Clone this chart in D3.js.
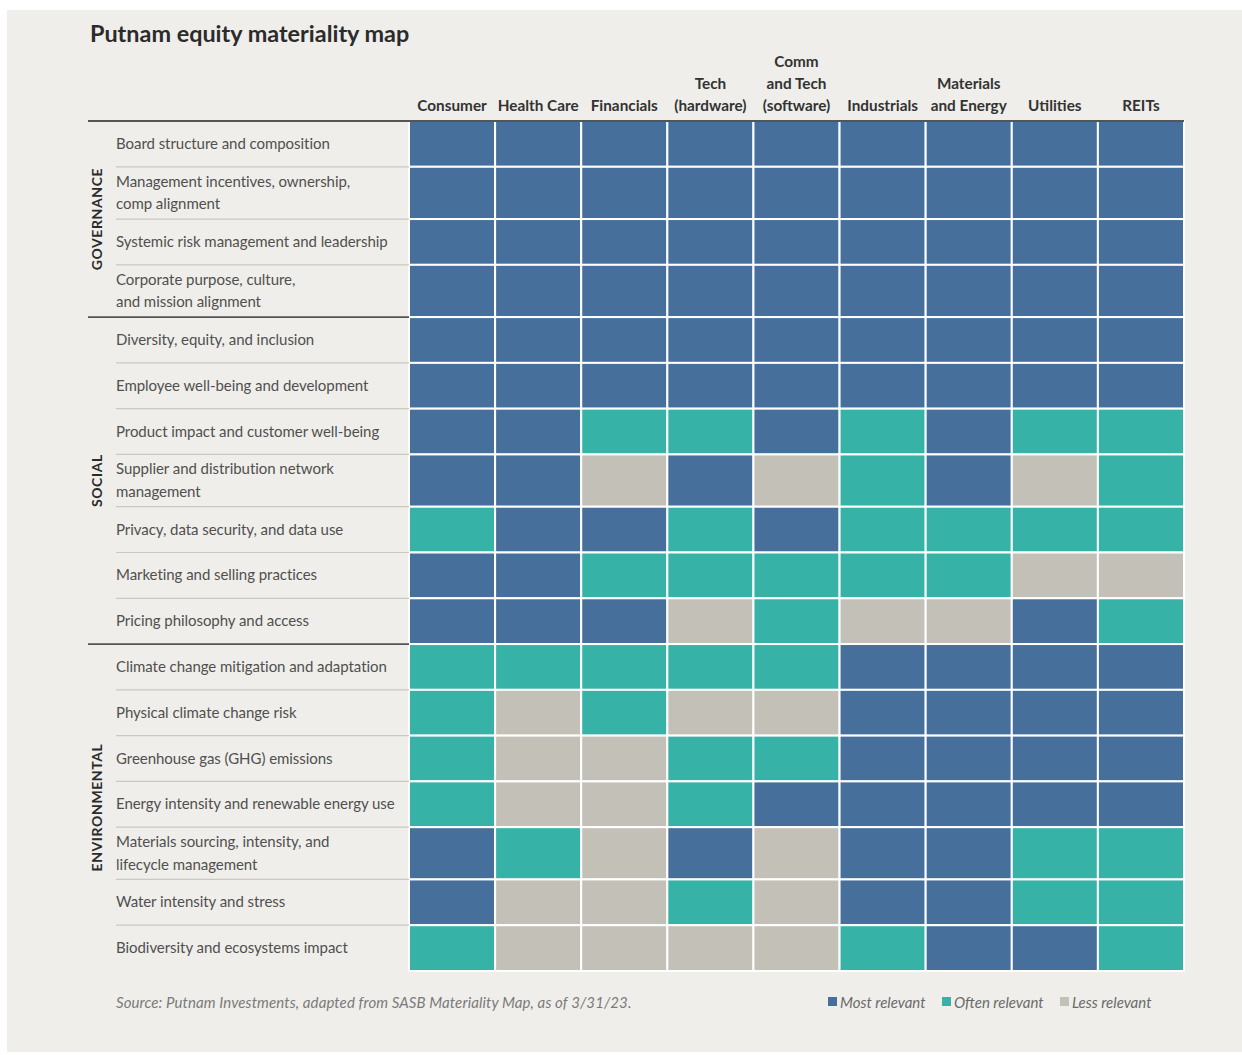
<!DOCTYPE html>
<html><head><meta charset="utf-8">
<script src="https://cdn.jsdelivr.net/npm/d3@7"></script>
<style>
html,body{margin:0;padding:0;background:#fff;}
svg{display:block;}
</style></head>
<body>
<script>
const title = "Putnam equity materiality map";
const sectors = ["Consumer","Health Care","Financials","Tech\n(hardware)","Comm\nand Tech\n(software)","Industrials","Materials\nand Energy","Utilities","REITs"];
const groups = ["GOVERNANCE","SOCIAL","ENVIRONMENTAL"];
const issues = [
 ["GOVERNANCE","Board structure and composition"],
 ["GOVERNANCE","Management incentives, ownership,\ncomp alignment"],
 ["GOVERNANCE","Systemic risk management and leadership"],
 ["GOVERNANCE","Corporate purpose, culture,\nand mission alignment"],
 ["SOCIAL","Diversity, equity, and inclusion"],
 ["SOCIAL","Employee well-being and development"],
 ["SOCIAL","Product impact and customer well-being"],
 ["SOCIAL","Supplier and distribution network\nmanagement"],
 ["SOCIAL","Privacy, data security, and data use"],
 ["SOCIAL","Marketing and selling practices"],
 ["SOCIAL","Pricing philosophy and access"],
 ["ENVIRONMENTAL","Climate change mitigation and adaptation"],
 ["ENVIRONMENTAL","Physical climate change risk"],
 ["ENVIRONMENTAL","Greenhouse gas (GHG) emissions"],
 ["ENVIRONMENTAL","Energy intensity and renewable energy use"],
 ["ENVIRONMENTAL","Materials sourcing, intensity, and\nlifecycle management"],
 ["ENVIRONMENTAL","Water intensity and stress"],
 ["ENVIRONMENTAL","Biodiversity and ecosystems impact"]
];
// M = Most relevant, O = Often relevant, L = Less relevant
const ratings = [
 "MMMMMMMMM",
 "MMMMMMMMM",
 "MMMMMMMMM",
 "MMMMMMMMM",
 "MMMMMMMMM",
 "MMMMMMMMM",
 "MMOOMOMOO",
 "MMLMLOMLO",
 "OMMOMOOOO",
 "MMOOOOOLL",
 "MMMLOLLMO",
 "OOOOOMMMM",
 "OLOLLMMMM",
 "OLLOOMMMM",
 "OLLOMMMMM",
 "MOLMLMMOO",
 "MLLOLMMOO",
 "OLLLLOMMO"
];
const levels = ["M","O","L"];
const levelNames = ["Most relevant","Often relevant","Less relevant"];
const levelColors = ["#46709b","#36b3a6","#c3c1b7"];
const source = "Source: Putnam Investments, adapted from SASB Materiality Map, as of 3/31/23.";

const W = 1242, H = 1055;
const svg = d3.select("body").append("svg").attr("width", W).attr("height", H);
svg.append("rect").attr("x",7).attr("y",10).attr("width",W-7).attr("height",1042).attr("fill","#efeeea");

const font = "Lato, 'Open Sans', sans-serif";
svg.append("text").attr("x",90).attr("y",42).text(title)
  .attr("font-family",font).attr("font-weight",700).attr("font-size",23.4).attr("fill","#2b2b2b");

const gridLeft = 409, gridRight = 1184, gridTop = 121, gridBottom = 971;
const x = d3.scaleBand().domain(sectors).range([gridLeft, gridRight]);
const color = d3.scaleOrdinal().domain(levels).range(levelColors);

// row heights from number of label lines
const units = issues.map(d => d[1].split("\n").length > 1 ? 1.142 : 1);
const cum = [0]; units.forEach(u => cum.push(cum[cum.length-1]+u));
const yU = d3.scaleLinear().domain([0, cum[cum.length-1]]).range([gridTop, gridBottom]);
const rowY = i => yU(cum[i]);
const rowH = i => yU(cum[i+1]) - yU(cum[i]);

// header labels
sectors.forEach(s => {
  const lines = s.split("\n");
  const t = svg.append("text").attr("text-anchor","middle")
    .attr("font-family",font).attr("font-weight",700).attr("font-size",15.3).attr("fill","#333");
  lines.forEach((ln,i) => {
    t.append("tspan").attr("x", x(s)+x.bandwidth()/2).attr("y", 111 - (lines.length-1-i)*22).text(ln);
  });
});

// cells
const cells = [];
issues.forEach((iss,i) => sectors.forEach((s,j) => cells.push({i, s, v: ratings[i][j]})));
svg.append("g").selectAll("rect").data(cells).join("rect")
  .attr("x", d => x(d.s)).attr("y", d => rowY(d.i))
  .attr("width", x.bandwidth()).attr("height", d => rowH(d.i))
  .attr("fill", d => color(d.v)).attr("stroke","#ffffff").attr("stroke-width",2);

// row labels and separators
issues.forEach((iss,i) => {
  const lines = iss[1].split("\n");
  const cy = rowY(i) + rowH(i)/2;
  const t = svg.append("text").attr("font-family",font).attr("font-size",15)
    .attr("fill","#505050").attr("letter-spacing",-0.05);
  lines.forEach((ln,k) => {
    t.append("tspan").attr("x",116).attr("y", cy + 5 + (k - (lines.length-1)/2)*22.5).text(ln);
  });
  if (i > 0 && issues[i-1][0] === iss[0]) {
    svg.append("line").attr("x1",116).attr("x2",gridLeft).attr("y1",rowY(i)).attr("y2",rowY(i))
      .attr("stroke","#c9c8c3").attr("stroke-width",1.2);
  }
});

// section lines and labels
svg.append("line").attr("x1",88).attr("x2",gridRight).attr("y1",gridTop).attr("y2",gridTop)
  .attr("stroke","#555").attr("stroke-width",2);
groups.forEach(g => {
  const idx = issues.map((d,i)=>d[0]===g?i:-1).filter(i=>i>=0);
  const y0 = rowY(idx[0]), y1 = rowY(idx[idx.length-1]) + rowH(idx[idx.length-1]);
  if (idx[0] > 0) {
    svg.append("line").attr("x1",88).attr("x2",gridLeft).attr("y1",y0).attr("y2",y0)
      .attr("stroke","#555").attr("stroke-width",1.8);
  }
  svg.append("text").attr("transform",`translate(102,${(y0+y1)/2}) rotate(-90)`)
    .attr("text-anchor","middle").attr("font-family",font).attr("font-weight",700)
    .attr("font-size",14).attr("letter-spacing",0.6).attr("fill","#2b2b2b").text(g);
});

// source
svg.append("text").attr("x",116).attr("y",1008).text(source)
  .attr("font-family",font).attr("font-style","italic").attr("font-size",15)
  .attr("fill","#7a7a7a").attr("letter-spacing",0.1);

// legend
const legX = [828, 942, 1060];
levels.forEach((l,i) => {
  svg.append("rect").attr("x",legX[i]).attr("y",997).attr("width",9).attr("height",9).attr("fill",color(l));
  svg.append("text").attr("x",legX[i]+12).attr("y",1008).text(levelNames[i])
    .attr("font-family",font).attr("font-style","italic").attr("font-size",15)
    .attr("fill","#6a6a6a").attr("letter-spacing",0);
});
</script>
</body></html>
